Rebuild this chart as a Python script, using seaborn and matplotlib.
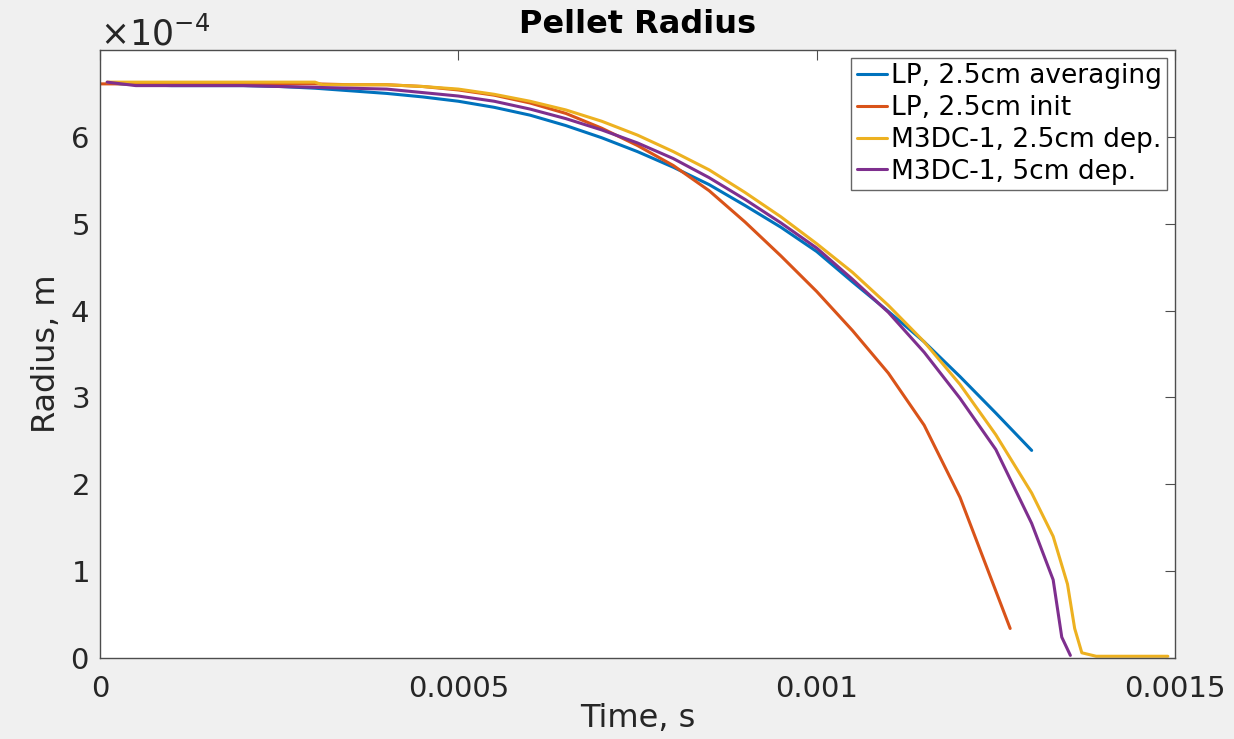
import numpy as np
import pandas as pd
import matplotlib
matplotlib.use("Agg")
import matplotlib.pyplot as plt
import seaborn as sns
from matplotlib.ticker import ScalarFormatter

# time in s, radius in units of 1e-4 m
t_lp_avg = [0.00001, 0.00005, 0.0001, 0.00015, 0.0002, 0.00025, 0.0003, 0.00035, 0.0004,
            0.00045, 0.0005, 0.00055, 0.0006, 0.00065, 0.0007, 0.00075, 0.0008, 0.00085,
            0.0009, 0.00095, 0.001, 0.00105, 0.0011, 0.00115, 0.0012, 0.00125, 0.0013]
r_lp_avg = [6.62, 6.60, 6.59, 6.59, 6.59, 6.58, 6.56, 6.53, 6.50,
            6.46, 6.41, 6.34, 6.25, 6.13, 5.99, 5.83, 5.65, 5.45,
            5.21, 4.96, 4.68, 4.33, 3.99, 3.64, 3.24, 2.82, 2.39]

t_lp_init = [0.0, 0.00005, 0.0001, 0.00015, 0.0002, 0.00025, 0.0003, 0.00035, 0.0004,
             0.00045, 0.0005, 0.00055, 0.0006, 0.00065, 0.0007, 0.00075, 0.0008, 0.00085,
             0.0009, 0.00095, 0.001, 0.00105, 0.0011, 0.00115, 0.0012, 0.00127]
r_lp_init = [6.61, 6.61, 6.61, 6.61, 6.61, 6.61, 6.61, 6.60, 6.60,
             6.58, 6.54, 6.48, 6.39, 6.27, 6.10, 5.90, 5.67, 5.38,
             5.02, 4.63, 4.22, 3.77, 3.28, 2.68, 1.85, 0.34]

t_m3d_25 = [0.00001, 0.0001, 0.0002, 0.0003, 0.00031, 0.0004, 0.00045, 0.0005, 0.00055,
            0.0006, 0.00065, 0.0007, 0.00075, 0.0008, 0.00085, 0.0009, 0.00095, 0.001,
            0.00105, 0.0011, 0.00115, 0.0012, 0.00125, 0.0013, 0.00133, 0.00135, 0.00136,
            0.00137, 0.00139, 0.00149]
r_m3d_25 = [6.63, 6.63, 6.63, 6.63, 6.60, 6.60, 6.58, 6.55, 6.49,
            6.41, 6.31, 6.18, 6.02, 5.83, 5.62, 5.36, 5.08, 4.77,
            4.44, 4.06, 3.64, 3.15, 2.57, 1.90, 1.40, 0.85, 0.34,
            0.06, 0.02, 0.02]

t_m3d_5 = [0.00001, 0.00005, 0.0001, 0.0002, 0.00025, 0.0003, 0.00035, 0.0004, 0.00045,
           0.0005, 0.00055, 0.0006, 0.00065, 0.0007, 0.00075, 0.0008, 0.00085, 0.0009,
           0.00095, 0.001, 0.00105, 0.0011, 0.00115, 0.0012, 0.00125, 0.0013, 0.00133,
           0.001342, 0.001354]
r_m3d_5 = [6.63, 6.59, 6.59, 6.59, 6.58, 6.57, 6.56, 6.55, 6.51,
           6.47, 6.41, 6.32, 6.21, 6.08, 5.93, 5.75, 5.53, 5.28,
           5.01, 4.72, 4.36, 3.98, 3.52, 2.99, 2.40, 1.55, 0.90,
           0.24, 0.03]

labels = ["LP, 2.5cm averaging", "LP, 2.5cm init", "M3DC-1, 2.5cm dep.", "M3DC-1, 5cm dep."]
colors = ["#0072BD", "#D95319", "#EDB120", "#7E2F8E"]
x_ticks = [0, 0.0005, 0.001, 0.0015]
x_tick_labels = ["0", "0.0005", "0.001", "0.0015"]
y_ticks = [0, 1, 2, 3, 4, 5, 6]

sns.set_style("white")
plt.rcParams['font.family'] = ['DejaVu Sans']
plt.rcParams['mathtext.fontset'] = 'dejavusans'

fig = plt.figure(figsize=(12.34, 7.39), dpi=100, facecolor="#f0f0f0")
ax = fig.add_axes([100 / 1234, 1 - 658 / 739, 1075 / 1234, 608 / 739])
ax.set_facecolor("white")

series = [(t_lp_avg, r_lp_avg), (t_lp_init, r_lp_init), (t_m3d_25, r_m3d_25), (t_m3d_5, r_m3d_5)]
for (t, r), lab, col in zip(series, labels, colors):
    df = pd.DataFrame({"t": t, "r": np.array(r) * 1e-4})
    sns.lineplot(data=df, x="t", y="r", ax=ax, color=col, label=lab, linewidth=2.2,
                 sort=False, estimator=None)

ax.set_xlim(0, 0.0015)
ax.set_ylim(0, 7e-4)
ax.set_xticks(x_ticks, x_tick_labels)
ax.set_yticks(np.array(y_ticks) * 1e-4)
fmt = ScalarFormatter(useMathText=True)
fmt.set_powerlimits((-3, 3))
ax.yaxis.set_major_formatter(fmt)
ax.yaxis.get_offset_text().set_fontsize(25)
ax.yaxis.get_offset_text().set_color("#262626")

ax.tick_params(direction="in", length=7, width=0.8, color="0.3", labelsize=21,
               labelcolor="#262626", top=True, right=True)
ax.tick_params(axis="x", pad=12)
ax.tick_params(axis="y", pad=8)
for sp in ax.spines.values():
    sp.set_color("0.3")
    sp.set_linewidth(1.0)

ax.set_title("Pellet Radius", fontsize=23, fontweight="bold", pad=12, color="black")
ax.set_xlabel("Time, s", fontsize=23, color="#262626", labelpad=0)
ax.set_ylabel("Radius, m", fontsize=23, color="#262626", labelpad=6)

leg = ax.legend(loc="upper right", fontsize=19, frameon=True, fancybox=False, framealpha=1,
                edgecolor="0.4", handlelength=1.15, handletextpad=0.15, borderpad=0.2,
                labelspacing=0.22, borderaxespad=0.3)
for txt in leg.get_texts():
    txt.set_color("black")

fig.savefig("out.png", dpi=100, facecolor=fig.get_facecolor())
